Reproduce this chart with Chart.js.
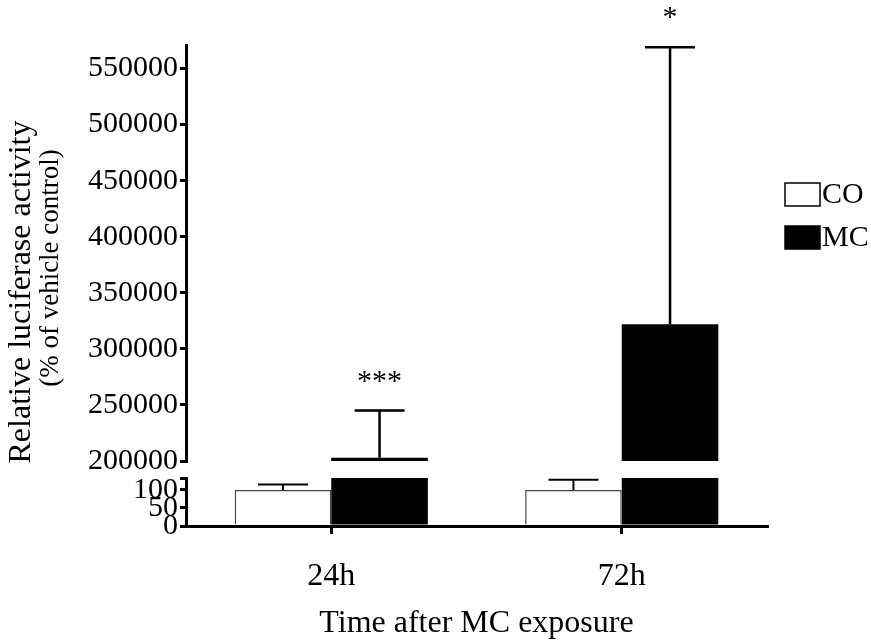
<!DOCTYPE html>
<html>
<head>
<meta charset="utf-8">
<script src="https://cdn.jsdelivr.net/npm/chart.js@4.4.0/dist/chart.umd.min.js"></script>
<style>
  html, body { margin: 0; padding: 0; background: #fff; }
  #wrap { width: 871px; height: 643px; }
</style>
</head>
<body>
<div id="wrap"><canvas id="myChart" width="871" height="643"></canvas></div>
<script>
// data
const categories = ["24h", "72h"];
const coMean = [100, 100];
const coErr = [15, 28];
const mcMean = [203000, 322000];
const mcErr = [42000, 247000];
const stars = ["***", "*"];

// broken y axis: lower and upper pieces
const lowTicks = [0, 50, 100];
const highTicks = [200000, 250000, 300000, 350000, 400000, 450000, 500000, 550000];
const lowMax = 133;
const highMin = 200000;
const highMax = 571000;

const FONT = '"Liberation Serif", "Times New Roman", serif';

function fixWidth(scale) {
  scale.width = 98;
}

const errorBars = {
  id: "errorBars",
  afterDatasetsDraw(chart) {
    const ctx = chart.ctx;
    const yLow = chart.scales.yLow;
    const yHigh = chart.scales.yHigh;
    const coMeta = chart.getDatasetMeta(0);
    const mcMeta = chart.getDatasetMeta(2);

    const draw = function (x, y0, y1, w) {
      ctx.beginPath();
      ctx.moveTo(x, y0);
      ctx.lineTo(x, y1);
      ctx.moveTo(x - 25, y1);
      ctx.lineTo(x + 25, y1);
      ctx.lineWidth = w;
      ctx.strokeStyle = "#000";
      ctx.stroke();
    };

    ctx.save();
    for (let i = 0; i < categories.length; i++) {
      const cx = coMeta.data[i].x;
      draw(cx, yLow.getPixelForValue(coMean[i]), yLow.getPixelForValue(coMean[i] + coErr[i]), 2);

      const mx = mcMeta.data[i].x;
      const top = yHigh.getPixelForValue(mcMean[i] + mcErr[i]);
      draw(mx, yHigh.getPixelForValue(mcMean[i]), top, 2.5);

      ctx.fillStyle = "#000";
      ctx.font = "30px " + FONT;
      ctx.textAlign = "center";
      ctx.textBaseline = "alphabetic";
      ctx.fillText(stars[i], mx, top - 21);
    }
    ctx.restore();
  },
};

const sideText = {
  id: "sideText",
  afterDraw(chart) {
    const ctx = chart.ctx;
    // y title, spans both axis pieces
    ctx.save();
    ctx.rotate(-Math.PI / 2);
    ctx.fillStyle = "#000";
    ctx.textAlign = "center";
    ctx.textBaseline = "middle";
    ctx.font = "32px " + FONT;
    ctx.fillText("Relative luciferase activity", -292, 22);
    ctx.font = "27px " + FONT;
    ctx.fillText("(% of vehicle control)", -268, 51);
    ctx.restore();

    // legend
    ctx.save();
    const items = [
      { label: chart.data.datasets[0].label, fill: "#fff" },
      { label: chart.data.datasets[1].label, fill: "#000" },
    ];
    ctx.font = "30px " + FONT;
    ctx.textBaseline = "middle";
    ctx.textAlign = "left";
    items.forEach((it, k) => {
      const y = 183 + k * 43;
      ctx.fillStyle = it.fill;
      ctx.fillRect(785, y, 35, 23);
      ctx.strokeStyle = "#000";
      ctx.lineWidth = 1.5;
      ctx.strokeRect(785, y, 35, 23);
      ctx.fillStyle = "#000";
      ctx.fillText(it.label, 822, y + 12);
    });
    ctx.restore();
  },
};

const yBase = {
  type: "linear",
  position: "left",
  stack: "y",
  stacked: false,
  afterFit: fixWidth,
  border: { display: true, color: "#000", width: 3 },
  grid: { drawOnChartArea: false, drawTicks: true, tickLength: 6, color: "#000", lineWidth: 3 },
  ticks: {
    color: "#000",
    font: { family: FONT, size: 30 },
    padding: 2,
    autoSkip: false,
    callback: (v) => (v === lowMax ? "" : String(v)),
  },
};

const config = {
  type: "bar",
  data: {
    labels: categories,
    datasets: [
      {
        label: "CO",
        data: coMean,
        yAxisID: "yLow",
        stack: "co",
        backgroundColor: "#fff",
        borderColor: "#444",
        borderWidth: 1.5,
      },
      {
        label: "MC",
        data: mcMean.map((v) => Math.min(v, lowMax)),
        yAxisID: "yLow",
        stack: "mc",
        backgroundColor: "#000",
        borderWidth: 0,
      },
      {
        label: "MC",
        data: mcMean.map((v) => [highMin, v]),
        yAxisID: "yHigh",
        stack: "mc",
        backgroundColor: "#000",
        borderWidth: 0,
      },
    ],
  },
  options: {
    responsive: false,
    animation: false,
    barPercentage: 1,
    categoryPercentage: 0.665,
    layout: { padding: { left: 88, right: 104, top: 45, bottom: 0 } },
    plugins: {
      legend: { display: false },
      tooltip: { enabled: false },
    },
    scales: {
      x: {
        type: "category",
        afterFit: (scale) => {
          scale.height = 117;
        },
        border: { display: true, color: "#000", width: 3 },
        grid: { offset: false, drawOnChartArea: false, drawTicks: true, tickLength: 8, color: "#000", lineWidth: 3 },
        ticks: { color: "#000", font: { family: FONT, size: 32 }, padding: 23 },
        title: {
          display: true,
          text: "Time after MC exposure",
          color: "#000",
          font: { family: FONT, size: 32 },
          padding: { top: 0, bottom: 0 },
        },
      },
      yLow: Object.assign({}, yBase, {
        min: 0,
        max: lowMax,
        stackWeight: 48,
        afterBuildTicks: (scale) => {
          scale.ticks = lowTicks.concat([lowMax]).map((v) => ({ value: v }));
        },
      }),
      yGap: {
        type: "linear",
        position: "left",
        stack: "y",
        stackWeight: 17,
        min: 0,
        max: 1,
        afterFit: fixWidth,
        border: { display: false },
        grid: { display: false },
        ticks: { display: false },
      },
      yHigh: Object.assign({}, yBase, {
        min: highMin,
        max: highMax,
        stackWeight: 416,
        afterBuildTicks: (scale) => {
          scale.ticks = highTicks.map((v) => ({ value: v }));
        },
      }),
    },
  },
  plugins: [errorBars, sideText],
};

new Chart(document.getElementById("myChart"), config);
</script>
</body>
</html>
